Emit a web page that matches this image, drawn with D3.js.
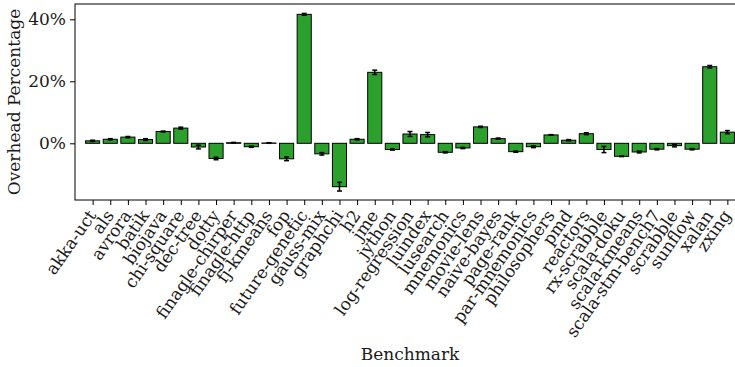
<!DOCTYPE html>
<html>
<head>
<meta charset="utf-8">
<script src="https://cdn.jsdelivr.net/npm/d3@7"></script>
<style>
  html, body { margin: 0; padding: 0; background: #fff; }
  svg { display: block; font-family: "DejaVu Serif", serif; }
</style>
</head>
<body>
<svg id="chart" width="735" height="367"></svg>
<script>
// Benchmark names along the x axis
const benchmarks = [
  "akka-uct", "als", "avrora", "batik", "biojava", "chi-square", "dec-tree",
  "dotty", "finagle-chirper", "finagle-http", "fj-kmeans", "fop",
  "future-genetic", "gauss-mix", "graphchi", "h2", "jme", "jython",
  "log-regression", "luindex", "lusearch", "mnemonics", "movie-lens",
  "naive-bayes", "page-rank", "par-mnemonics", "philosophers", "pmd",
  "reactors", "rx-scrabble", "scala-doku", "scala-kmeans", "scala-stm-bench7",
  "scrabble", "sunflow", "xalan", "zxing"
];

// Mean overhead (%) per benchmark
const overhead = [
  0.8, 1.3, 2.0, 1.2, 3.8, 4.9, -1.2,
  -4.9, 0.2, -1.1, 0.1, -5.0,
  41.6, -3.4, -14.0, 1.3, 22.9, -2.0,
  3.0, 2.8, -2.9, -1.5, 5.3,
  1.5, -2.7, -1.1, 2.7, 1.0,
  3.1, -2.0, -4.2, -2.8, -1.9,
  -0.75, -1.9, 24.7, 3.6
];

// Error (±%) per benchmark
const errors = [
  0.2, 0.2, 0.2, 0.3, 0.15, 0.3, 0.6,
  0.4, 0.1, 0.2, 0.1, 0.6,
  0.3, 0.4, 1.4, 0.2, 0.7, 0.2,
  0.8, 0.7, 0.2, 0.2, 0.2,
  0.2, 0.2, 0.3, 0.1, 0.2,
  0.3, 1.0, 0.1, 0.3, 0.2,
  0.4, 0.2, 0.4, 0.5
];

const yTicks = [0, 20, 40];

const svg = d3.select("#chart");
const mLeft = 75, mRight = 745, mTop = 4, mBottom = 200;
const fontSize = 17;

const x = d3.scaleLinear().domain([-1, benchmarks.length]).range([mLeft, mRight]);
const y = d3.scaleLinear().domain([-18.29, 44.94]).range([mBottom, mTop]);
const barW = 0.8;
const green = "#2ca02c";

// Bars
svg.append("g").selectAll("rect")
  .data(overhead)
  .join("rect")
  .attr("x", (d, i) => x(i - barW / 2))
  .attr("width", x(barW) - x(0))
  .attr("y", d => y(Math.max(0, d)))
  .attr("height", d => Math.abs(y(d) - y(0)))
  .attr("fill", green)
  .attr("stroke", "#000")
  .attr("stroke-width", 1);

// Error bars
const eg = svg.append("g").attr("stroke", "#000").attr("stroke-width", 1.5);
overhead.forEach((d, i) => {
  const cx = x(i), y1 = y(d - errors[i]), y2 = y(d + errors[i]);
  eg.append("line").attr("x1", cx).attr("x2", cx).attr("y1", y1).attr("y2", y2);
  eg.append("line").attr("x1", cx - 2.5).attr("x2", cx + 2.5).attr("y1", y1).attr("y2", y1);
  eg.append("line").attr("x1", cx - 2.5).attr("x2", cx + 2.5).attr("y1", y2).attr("y2", y2);
});

// Y axis
const yAxis = d3.axisLeft(y).tickValues(yTicks).tickFormat(d => d + "%").tickSize(5).tickPadding(4);
const ya = svg.append("g").attr("transform", `translate(${mLeft},0)`).call(yAxis);
ya.select(".domain").remove();
ya.selectAll("text").attr("font-size", fontSize).attr("font-family", "DejaVu Serif").attr("fill", "#1a1a1a");
ya.selectAll("line").attr("stroke", "#000");

// X axis with slanted benchmark names
const xAxis = d3.axisBottom(x).tickValues(d3.range(benchmarks.length))
  .tickFormat(i => benchmarks[i]).tickSize(5).tickPadding(4);
const xa = svg.append("g").attr("transform", `translate(0,${mBottom})`).call(xAxis);
xa.select(".domain").remove();
xa.selectAll("line").attr("stroke", "#000");
xa.selectAll("text")
  .attr("font-size", fontSize).attr("font-family", "DejaVu Serif").attr("fill", "#1a1a1a")
  .attr("text-anchor", "end")
  .attr("y", 0).attr("dy", "0.35em")
  .attr("transform", "translate(-1,12) rotate(-55)");

// Frame
svg.append("rect")
  .attr("x", mLeft).attr("y", mTop)
  .attr("width", mRight - mLeft).attr("height", mBottom - mTop)
  .attr("fill", "none").attr("stroke", "#000").attr("stroke-width", 1);

// Axis titles
svg.append("text")
  .attr("x", (mLeft + mRight) / 2).attr("y", 360)
  .attr("text-anchor", "middle").attr("font-size", fontSize).attr("fill", "#1a1a1a")
  .text("Benchmark");
svg.append("text")
  .attr("transform", `translate(20,${(mTop + mBottom) / 2}) rotate(-90)`)
  .attr("text-anchor", "middle").attr("font-size", fontSize).attr("fill", "#1a1a1a")
  .text("Overhead Percentage");
</script>
</body>
</html>
